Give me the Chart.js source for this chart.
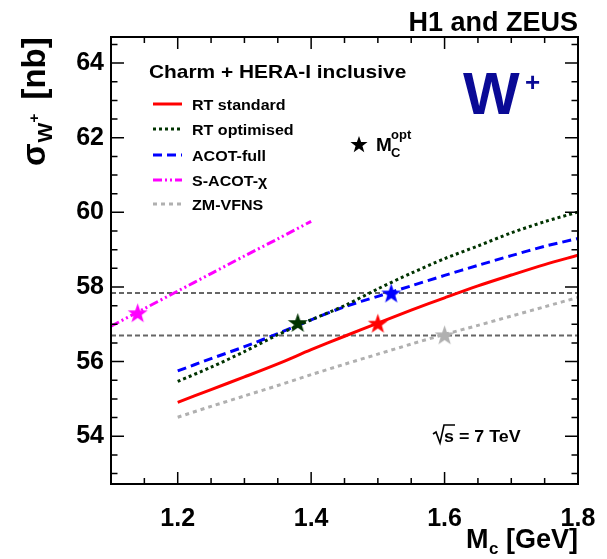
<!DOCTYPE html>
<html><head><meta charset="utf-8">
<script src="https://cdn.jsdelivr.net/npm/chart.js@4"></script>
<style>html,body{margin:0;padding:0;background:#fff}#wrap{width:607px;height:559px}</style>
</head><body><div id="wrap"><canvas id="c" width="607" height="559"></canvas></div>
<script>
// ---- data ----
const mcGrid      = [1.2, 1.25, 1.3, 1.35, 1.4, 1.45, 1.5, 1.55, 1.6, 1.65, 1.7, 1.75, 1.8];
const rtStandard  = [54.91, 55.25, 55.59, 55.94, 56.32, 56.68, 57.03, 57.38, 57.71, 58.03, 58.32, 58.60, 58.85];
const rtOptimised = [55.47, 55.85, 56.27, 56.72, 57.12, 57.50, 57.95, 58.37, 58.76, 59.10, 59.45, 59.75, 60.01];
const acotFull    = [55.75, 56.08, 56.40, 56.75, 57.12, 57.47, 57.75, 58.03, 58.31, 58.58, 58.84, 59.09, 59.30];
const zmVfns      = [54.51, 54.80, 55.08, 55.36, 55.65, 55.93, 56.20, 56.47, 56.73, 56.97, 57.22, 57.47, 57.72];
const sacotMc     = [1.1, 1.15, 1.2, 1.25, 1.3, 1.35, 1.4];
const sacotChi    = [56.95, 57.42, 57.89, 58.36, 58.83, 59.29, 59.76];
const optScheme   = ['RT standard', 'RT optimised', 'ACOT-full', 'S-ACOT-\u03c7', 'ZM-VFNS'];
const optMc       = [1.50, 1.38, 1.52, 1.14, 1.60];
const optSigma    = [57.03, 57.05, 57.84, 57.31, 56.72];
const bandSigma   = [57.84, 56.70];
const bandMc      = [1.1, 1.8];
const xRange      = [1.1, 1.8];
const yRange      = [52.72, 64.7];

const COLORS = {'RT standard':'#ff0000','RT optimised':'#003300','ACOT-full':'#0000ff','S-ACOT-\u03c7':'#ff00ff','ZM-VFNS':'#b0b0b0'};
const FONT = '"Liberation Sans", Arial, Helvetica, sans-serif';

function makeStar(color, r) {
  const c = document.createElement('canvas');
  const s = Math.ceil(2 * r + 4);
  c.width = s; c.height = s;
  const g = c.getContext('2d');
  g.translate(s / 2, s / 2 + r * 0.1);
  g.beginPath();
  for (let i = 0; i < 10; i++) {
    const rr = i % 2 === 0 ? r : r * 0.4;
    const a = -Math.PI / 2 + i * Math.PI / 5;
    const px = rr * Math.cos(a), py = rr * Math.sin(a);
    if (i === 0) g.moveTo(px, py); else g.lineTo(px, py);
  }
  g.closePath();
  g.fillStyle = color; g.fill();
  return c;
}

const pts = (xs, ys) => xs.map((x, i) => ({x: x, y: ys[i]}));

const curveDefs = [
  {label: 'RT standard',  data: pts(mcGrid, rtStandard),  borderDash: []},
  {label: 'RT optimised', data: pts(mcGrid, rtOptimised), borderDash: [3, 3]},
  {label: 'ACOT-full',    data: pts(mcGrid, acotFull),    borderDash: [9, 5]},
  {label: 'S-ACOT-\u03c7',data: pts(sacotMc, sacotChi),   borderDash: [9, 3, 2, 3, 2, 3]},
  {label: 'ZM-VFNS',      data: pts(mcGrid, zmVfns),      borderDash: [4, 4]}
];

const datasets = [];
datasets.push({
  label: 'opt', type: 'scatter', data: pts(optMc, optSigma), showLine: false,
  pointStyle: optScheme.map(s => makeStar(COLORS[s], 10.5)), pointRadius: 10, order: 0
});
curveDefs.forEach(d => datasets.push({
  label: d.label, data: d.data, borderColor: COLORS[d.label], borderWidth: 3,
  borderDash: d.borderDash, pointRadius: 0, tension: 0.3, fill: false, order: 1
}));
bandSigma.forEach(v => datasets.push({
  label: 'band', data: pts(bandMc, [v, v]), borderColor: '#666666', borderWidth: 2,
  borderDash: [5, 3], pointRadius: 0, fill: false, order: 2
}));

function txt(ctx, s, x, y, font, color, sx, align) {
  ctx.save();
  ctx.font = font; ctx.fillStyle = color || '#000';
  ctx.textAlign = align || 'left'; ctx.textBaseline = 'alphabetic';
  ctx.translate(x, y); ctx.scale(sx || 1, 1);
  ctx.fillText(s, 0, 0);
  const w = ctx.measureText(s).width * (sx || 1);
  ctx.restore();
  return w;
}

const decor = {
  id: 'decor',
  afterDraw(chart) {
    const ctx = chart.ctx, a = chart.chartArea;
    const xs = chart.scales.x, ys = chart.scales.y;
    ctx.save();
    // ticks (inward, all four sides)
    ctx.strokeStyle = '#000'; ctx.lineWidth = 1.5; ctx.setLineDash([]);
    for (let k = 0; k <= 14; k++) {
      const v = 1.1 + k * 0.05;
      const px = xs.getPixelForValue(v);
      const major = (k === 2 || k === 6 || k === 10 || k === 14);
      const L = major ? 12 : 6;
      ctx.beginPath();
      ctx.moveTo(px, a.bottom); ctx.lineTo(px, a.bottom - L);
      ctx.moveTo(px, a.top); ctx.lineTo(px, a.top + L);
      ctx.stroke();
    }
    for (let v = 53; v <= 64.5; v += 0.5) {
      const py = ys.getPixelForValue(v);
      const major = Math.abs(v / 2 - Math.round(v / 2)) < 1e-6;
      const L = major ? 13 : 6.5;
      ctx.beginPath();
      ctx.moveTo(a.left, py); ctx.lineTo(a.left + L, py);
      ctx.moveTo(a.right, py); ctx.lineTo(a.right - L, py);
      ctx.stroke();
    }
    // frame
    ctx.lineWidth = 2;
    ctx.strokeRect(a.left, a.top, a.right - a.left, a.bottom - a.top);

    // legend
    txt(ctx, 'Charm + HERA-I inclusive', 149, 78, 'bold 19px ' + FONT, '#000', 1.1);
    const rows = [104, 129, 155, 180, 204];
    curveDefs.forEach((d, i) => {
      ctx.save();
      ctx.strokeStyle = COLORS[d.label]; ctx.lineWidth = 3; ctx.setLineDash(d.borderDash);
      ctx.beginPath(); ctx.moveTo(153, rows[i]); ctx.lineTo(182, rows[i]); ctx.stroke();
      ctx.restore();
      txt(ctx, d.label, 192, rows[i] + 5.5, 'bold 15px ' + FONT, '#000', 1.07);
    });
    // M_C^opt marker legend
    const st = makeStar('#000', 9);
    ctx.drawImage(st, 359 - st.width / 2, 144 - st.height / 2);
    txt(ctx, 'M', 376, 151, 'bold 19px ' + FONT);
    txt(ctx, 'C', 391, 157, 'bold 13px ' + FONT);
    txt(ctx, 'opt', 391, 139, 'bold 13px ' + FONT);
    // W+
    txt(ctx, 'W', 463, 114, 'bold 60px ' + FONT, '#0a0a96', 1.0);
    txt(ctx, '+', 525, 91, 'bold 26px ' + FONT, '#0a0a96');
    // sqrt(s)
    ctx.save();
    ctx.strokeStyle = '#000'; ctx.lineWidth = 1.6;
    ctx.beginPath();
    ctx.moveTo(433, 434); ctx.lineTo(436, 432); ctx.lineTo(440, 443); ctx.lineTo(444, 425); ctx.lineTo(455, 425);
    ctx.stroke();
    ctx.restore();
    txt(ctx, 's = 7 TeV', 444, 442, 'bold 17px ' + FONT, '#000', 1.05);
    // top-right label
    txt(ctx, 'H1 and ZEUS', 578, 31, 'bold 27px ' + FONT, '#000', 1, 'right');
    // x title
    txt(ctx, 'M', 466, 548, 'bold 27px ' + FONT);
    txt(ctx, 'c', 489, 554, 'bold 17px ' + FONT);
    txt(ctx, '[GeV]', 578, 548, 'bold 27px ' + FONT, '#000', 1, 'right');
    // y title (rotated)
    ctx.save();
    ctx.translate(45, 166); ctx.rotate(-Math.PI / 2);
    ctx.fillStyle = '#000';
    ctx.font = 'bold 33px ' + FONT;
    let w = ctx.measureText('\u03c3').width; ctx.fillText('\u03c3', 0, 0);
    ctx.font = 'bold 21px ' + FONT;
    ctx.fillText('W', w + 1, 7);
    let w2 = ctx.measureText('W').width;
    ctx.font = 'bold 15px ' + FONT;
    ctx.fillText('+', w + 1 + w2, -6);
    ctx.font = 'bold 33px ' + FONT;
    ctx.fillText('[nb]', w + w2 + 24, 0);
    ctx.restore();
    ctx.restore();
  }
};

new Chart(document.getElementById('c'), {
  type: 'line',
  data: {datasets: datasets},
  options: {
    responsive: false, animation: false, devicePixelRatio: 1,
    layout: {padding: {top: 37, right: 29, left: 0, bottom: 0}},
    plugins: {legend: {display: false}, tooltip: {enabled: false}},
    scales: {
      x: {
        type: 'linear', min: xRange[0], max: xRange[1],
        grid: {display: false, drawTicks: false}, border: {display: false},
        ticks: {stepSize: 0.2, includeBounds: false, padding: 20, color: '#000',
          font: {family: FONT, size: 25, weight: 'bold'},
          callback: v => Number(v).toFixed(1), maxRotation: 0, autoSkip: false},
        afterFit: s => { s.height = 75; s.paddingLeft = 0; s.paddingRight = 0; }
      },
      y: {
        type: 'linear', min: yRange[0], max: yRange[1],
        grid: {display: false, drawTicks: false}, border: {display: false},
        ticks: {stepSize: 2, includeBounds: false, padding: 7, color: '#000',
          font: {family: FONT, size: 25, weight: 'bold'},
          callback: v => String(Math.round(v))},
        afterFit: s => { s.width = 111; s.paddingTop = 0; s.paddingBottom = 0; }
      }
    }
  },
  plugins: [decor]
});
</script>
</body></html>
